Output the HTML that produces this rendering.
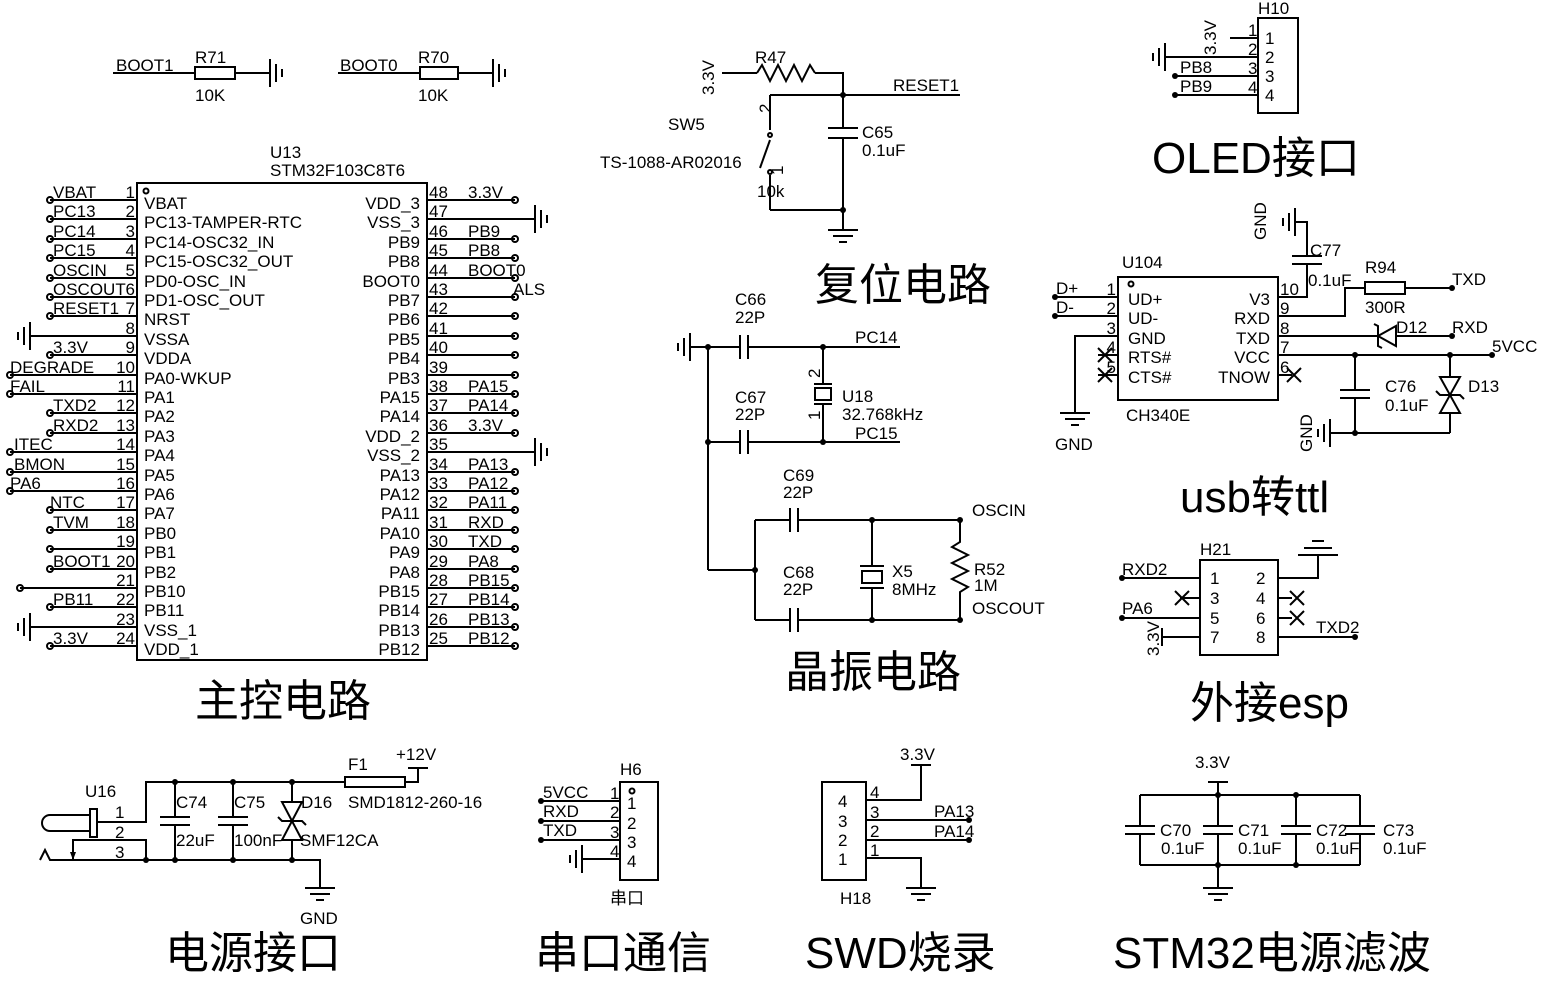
<!DOCTYPE html>
<html><head><meta charset="utf-8"><style>
html,body{margin:0;padding:0;background:#fff}
svg{display:block}
text{font-family:"Liberation Sans","Noto Sans CJK SC",sans-serif;font-size:17px;fill:#000}
.t{font-size:44px}
.s{font-size:17px}
line,polyline,path,rect,circle,polygon{stroke:#000;stroke-width:2;fill:none}
.d{fill:#000;stroke:none}
</style></head><body>
<svg width="1545" height="988" viewBox="0 0 1545 988" xmlns="http://www.w3.org/2000/svg">
<defs>
<g id="gl"><line x1="0" y1="-14" x2="0" y2="14"/><line x1="-6" y1="-9" x2="-6" y2="9"/><line x1="-12" y1="-4" x2="-12" y2="4"/></g>
<g id="gr"><line x1="0" y1="-14" x2="0" y2="14"/><line x1="6" y1="-9" x2="6" y2="9"/><line x1="12" y1="-4" x2="12" y2="4"/></g>
<g id="gd"><line x1="-15" y1="0" x2="15" y2="0"/><line x1="-10" y1="6" x2="10" y2="6"/><line x1="-4" y1="12" x2="4" y2="12"/></g>
</defs>

<!-- BOOT resistors -->
<text x="116" y="71">BOOT1</text><text x="195" y="63">R71</text><text x="195" y="101">10K</text>
<line x1="113" y1="73" x2="195" y2="73"/><rect x="195" y="67" width="40" height="12"/><line x1="235" y1="73" x2="270" y2="73"/><use href="#gr" x="270" y="73"/>
<text x="340" y="71">BOOT0</text><text x="418" y="63">R70</text><text x="418" y="101">10K</text>
<line x1="338" y1="73" x2="420" y2="73"/><rect x="420" y="67" width="38" height="12"/><line x1="458" y1="73" x2="493" y2="73"/><use href="#gr" x="493" y="73"/>

<!-- U13 -->
<text x="270" y="158">U13</text><text x="270" y="176">STM32F103C8T6</text>
<rect x="137" y="183" width="290" height="477"/>
<circle cx="146" cy="191" r="2.5" stroke-width="1.5"/>
<g class="s">
<text x="144" y="209">VBAT</text><text x="144" y="228">PC13-TAMPER-RTC</text><text x="144" y="248">PC14-OSC32_IN</text><text x="144" y="267">PC15-OSC32_OUT</text><text x="144" y="287">PD0-OSC_IN</text><text x="144" y="306">PD1-OSC_OUT</text><text x="144" y="325">NRST</text><text x="144" y="345">VSSA</text><text x="144" y="364">VDDA</text><text x="144" y="384">PA0-WKUP</text><text x="144" y="403">PA1</text><text x="144" y="422">PA2</text><text x="144" y="442">PA3</text><text x="144" y="461">PA4</text><text x="144" y="481">PA5</text><text x="144" y="500">PA6</text><text x="144" y="519">PA7</text><text x="144" y="539">PB0</text><text x="144" y="558">PB1</text><text x="144" y="578">PB2</text><text x="144" y="597">PB10</text><text x="144" y="616">PB11</text><text x="144" y="636">VSS_1</text><text x="144" y="655">VDD_1</text>
</g>
<g class="s" text-anchor="end">
<text x="420" y="209">VDD_3</text><text x="420" y="228">VSS_3</text><text x="420" y="248">PB9</text><text x="420" y="267">PB8</text><text x="420" y="287">BOOT0</text><text x="420" y="306">PB7</text><text x="420" y="325">PB6</text><text x="420" y="345">PB5</text><text x="420" y="364">PB4</text><text x="420" y="384">PB3</text><text x="420" y="403">PA15</text><text x="420" y="422">PA14</text><text x="420" y="442">VDD_2</text><text x="420" y="461">VSS_2</text><text x="420" y="481">PA13</text><text x="420" y="500">PA12</text><text x="420" y="519">PA11</text><text x="420" y="539">PA10</text><text x="420" y="558">PA9</text><text x="420" y="578">PA8</text><text x="420" y="597">PB15</text><text x="420" y="616">PB14</text><text x="420" y="636">PB13</text><text x="420" y="655">PB12</text>
</g>
<g class="s" text-anchor="end">
<text x="135" y="198">1</text><text x="135" y="217">2</text><text x="135" y="237">3</text><text x="135" y="256">4</text><text x="135" y="276">5</text><text x="135" y="295">6</text><text x="135" y="314">7</text><text x="135" y="334">8</text><text x="135" y="353">9</text><text x="135" y="373">10</text><text x="135" y="392">11</text><text x="135" y="411">12</text><text x="135" y="431">13</text><text x="135" y="450">14</text><text x="135" y="470">15</text><text x="135" y="489">16</text><text x="135" y="508">17</text><text x="135" y="528">18</text><text x="135" y="547">19</text><text x="135" y="567">20</text><text x="135" y="586">21</text><text x="135" y="605">22</text><text x="135" y="625">23</text><text x="135" y="644">24</text>
</g>
<g class="s">
<text x="429" y="198">48</text><text x="429" y="217">47</text><text x="429" y="237">46</text><text x="429" y="256">45</text><text x="429" y="276">44</text><text x="429" y="295">43</text><text x="429" y="314">42</text><text x="429" y="334">41</text><text x="429" y="353">40</text><text x="429" y="373">39</text><text x="429" y="392">38</text><text x="429" y="411">37</text><text x="429" y="431">36</text><text x="429" y="450">35</text><text x="429" y="470">34</text><text x="429" y="489">33</text><text x="429" y="508">32</text><text x="429" y="528">31</text><text x="429" y="547">30</text><text x="429" y="567">29</text><text x="429" y="586">28</text><text x="429" y="605">27</text><text x="429" y="625">26</text><text x="429" y="644">25</text>
</g>
<!-- left pin lines -->
<g>
<line x1="50" y1="200" x2="137" y2="200"/><line x1="50" y1="219" x2="137" y2="219"/><line x1="50" y1="239" x2="137" y2="239"/><line x1="50" y1="258" x2="137" y2="258"/><line x1="50" y1="278" x2="137" y2="278"/><line x1="50" y1="297" x2="137" y2="297"/><line x1="50" y1="316" x2="137" y2="316"/><line x1="30" y1="336" x2="137" y2="336"/><line x1="50" y1="355" x2="137" y2="355"/><line x1="10" y1="375" x2="137" y2="375"/><line x1="10" y1="394" x2="137" y2="394"/><line x1="50" y1="413" x2="137" y2="413"/><line x1="50" y1="433" x2="137" y2="433"/><line x1="10" y1="452" x2="137" y2="452"/><line x1="10" y1="472" x2="137" y2="472"/><line x1="10" y1="491" x2="137" y2="491"/><line x1="50" y1="510" x2="137" y2="510"/><line x1="50" y1="530" x2="137" y2="530"/><line x1="50" y1="549" x2="137" y2="549"/><line x1="50" y1="569" x2="137" y2="569"/><line x1="20" y1="588" x2="137" y2="588"/><line x1="50" y1="607" x2="137" y2="607"/><line x1="30" y1="627" x2="137" y2="627"/><line x1="50" y1="646" x2="137" y2="646"/>
</g>
<use href="#gl" x="30" y="336"/><use href="#gl" x="30" y="627"/>
<g class="d">
<circle cx="50" cy="200" r="3"/><circle cx="50" cy="219" r="3"/><circle cx="50" cy="239" r="3"/><circle cx="50" cy="258" r="3"/><circle cx="50" cy="278" r="3"/><circle cx="50" cy="297" r="3"/><circle cx="50" cy="316" r="3"/><circle cx="50" cy="355" r="3"/><circle cx="10" cy="375" r="3"/><circle cx="10" cy="394" r="3"/><circle cx="50" cy="413" r="3"/><circle cx="50" cy="433" r="3"/><circle cx="10" cy="452" r="3"/><circle cx="10" cy="472" r="3"/><circle cx="10" cy="491" r="3"/><circle cx="50" cy="510" r="3"/><circle cx="50" cy="530" r="3"/><circle cx="50" cy="549" r="3"/><circle cx="50" cy="569" r="3"/><circle cx="20" cy="588" r="3"/><circle cx="50" cy="607" r="3"/><circle cx="50" cy="646" r="3"/>
</g>
<g>
<text x="53" y="198">VBAT</text><text x="53" y="217">PC13</text><text x="53" y="237">PC14</text><text x="53" y="256">PC15</text><text x="53" y="276">OSCIN</text><text x="53" y="295">OSCOUT</text><text x="53" y="314">RESET1</text><text x="53" y="353">3.3V</text><text x="10" y="373">DEGRADE</text><text x="10" y="392">FAIL</text><text x="53" y="411">TXD2</text><text x="53" y="431">RXD2</text><text x="14" y="450">ITEC</text><text x="14" y="470">BMON</text><text x="10" y="489">PA6</text><text x="50" y="508">NTC</text><text x="53" y="528">TVM</text><text x="53" y="567">BOOT1</text><text x="53" y="605">PB11</text><text x="53" y="644">3.3V</text>
</g>
<!-- right pin lines -->
<g>
<line x1="427" y1="200" x2="515" y2="200"/><line x1="427" y1="219" x2="535" y2="219"/><line x1="427" y1="239" x2="515" y2="239"/><line x1="427" y1="258" x2="515" y2="258"/><line x1="427" y1="278" x2="515" y2="278"/><line x1="427" y1="297" x2="515" y2="297"/><line x1="427" y1="316" x2="515" y2="316"/><line x1="427" y1="336" x2="515" y2="336"/><line x1="427" y1="355" x2="515" y2="355"/><line x1="427" y1="375" x2="515" y2="375"/><line x1="427" y1="394" x2="515" y2="394"/><line x1="427" y1="413" x2="515" y2="413"/><line x1="427" y1="433" x2="515" y2="433"/><line x1="427" y1="452" x2="535" y2="452"/><line x1="427" y1="472" x2="515" y2="472"/><line x1="427" y1="491" x2="515" y2="491"/><line x1="427" y1="510" x2="515" y2="510"/><line x1="427" y1="530" x2="515" y2="530"/><line x1="427" y1="549" x2="515" y2="549"/><line x1="427" y1="569" x2="515" y2="569"/><line x1="427" y1="588" x2="515" y2="588"/><line x1="427" y1="607" x2="515" y2="607"/><line x1="427" y1="627" x2="515" y2="627"/><line x1="427" y1="646" x2="515" y2="646"/>
</g>
<use href="#gr" x="535" y="219"/><use href="#gr" x="535" y="452"/>
<g class="d">
<circle cx="515" cy="200" r="3"/><circle cx="515" cy="239" r="3"/><circle cx="515" cy="258" r="3"/><circle cx="515" cy="278" r="3"/><circle cx="515" cy="297" r="3"/><circle cx="515" cy="316" r="3"/><circle cx="515" cy="336" r="3"/><circle cx="515" cy="355" r="3"/><circle cx="515" cy="375" r="3"/><circle cx="515" cy="394" r="3"/><circle cx="515" cy="413" r="3"/><circle cx="515" cy="433" r="3"/><circle cx="515" cy="472" r="3"/><circle cx="515" cy="491" r="3"/><circle cx="515" cy="510" r="3"/><circle cx="515" cy="530" r="3"/><circle cx="515" cy="549" r="3"/><circle cx="515" cy="569" r="3"/><circle cx="515" cy="588" r="3"/><circle cx="515" cy="607" r="3"/><circle cx="515" cy="627" r="3"/><circle cx="515" cy="646" r="3"/>
</g>
<g>
<text x="468" y="198">3.3V</text><text x="468" y="237">PB9</text><text x="468" y="256">PB8</text><text x="468" y="276">BOOT0</text><text x="513" y="295">ALS</text><text x="468" y="392">PA15</text><text x="468" y="411">PA14</text><text x="468" y="431">3.3V</text><text x="468" y="470">PA13</text><text x="468" y="489">PA12</text><text x="468" y="508">PA11</text><text x="468" y="528">RXD</text><text x="468" y="547">TXD</text><text x="468" y="567">PA8</text><text x="468" y="586">PB15</text><text x="468" y="605">PB14</text><text x="468" y="625">PB13</text><text x="468" y="644">PB12</text>
</g>
<text class="t" x="195" y="716">主控电路</text>

<!-- Reset -->
<text transform="translate(714,95) rotate(-90)">3.3V</text>
<line x1="722" y1="73" x2="757" y2="73"/>
<polyline points="757,73 762,65 770,81 778,65 786,81 794,65 802,81 810,65 815,73"/>
<text x="755" y="63">R47</text>
<polyline points="815,73 843,73 843,95"/>
<line x1="770" y1="95" x2="960" y2="95"/><circle class="d" cx="843" cy="95" r="3"/>
<text x="893" y="91">RESET1</text>
<line x1="843" y1="95" x2="843" y2="128"/><line x1="828" y1="128" x2="858" y2="128"/><line x1="828" y1="138" x2="858" y2="138"/><line x1="843" y1="138" x2="843" y2="210"/>
<text x="862" y="138">C65</text><text x="862" y="156">0.1uF</text>
<line x1="770" y1="95" x2="770" y2="130"/><text x="760" y="114" transform="rotate(-90 765 108)">2</text>
<line x1="770" y1="140" x2="760" y2="168"/><circle cx="770" cy="135" r="2" stroke-width="1.5"/><circle cx="770" cy="172" r="2" stroke-width="1.5"/>
<line x1="770" y1="175" x2="770" y2="210"/><text x="773" y="177" transform="rotate(-90 777 171)">1</text>
<text x="757" y="197">10k</text>
<line x1="770" y1="210" x2="843" y2="210"/><circle class="d" cx="843" cy="210" r="3"/>
<line x1="843" y1="210" x2="843" y2="230"/><use href="#gd" x="843" y="230"/>
<text x="668" y="130">SW5</text><text x="600" y="168">TS-1088-AR02016</text>
<text class="t" x="815" y="300">复位电路</text>

<!-- 32k crystal -->
<use href="#gl" x="690" y="347"/>
<line x1="690" y1="347" x2="740" y2="347"/><line x1="740" y1="335" x2="740" y2="359"/><line x1="748" y1="335" x2="748" y2="359"/><line x1="748" y1="347" x2="900" y2="347"/>
<circle class="d" cx="708" cy="347" r="3"/><circle class="d" cx="823" cy="347" r="3"/><circle class="d" cx="708" cy="442" r="3"/><circle class="d" cx="823" cy="442" r="3"/>
<text x="855" y="343">PC14</text><text x="855" y="439">PC15</text>
<line x1="708" y1="347" x2="708" y2="570"/>
<line x1="708" y1="442" x2="740" y2="442"/><line x1="740" y1="430" x2="740" y2="454"/><line x1="748" y1="430" x2="748" y2="454"/><line x1="748" y1="442" x2="900" y2="442"/>
<line x1="823" y1="347" x2="823" y2="384"/><line x1="814" y1="384" x2="832" y2="384"/><rect x="815" y="388" width="16" height="12"/><line x1="814" y1="404" x2="832" y2="404"/><line x1="823" y1="404" x2="823" y2="442"/>
<text class="s" x="810" y="378" transform="rotate(-90 815 373)">2</text><text class="s" x="810" y="420" transform="rotate(-90 815 415)">1</text>
<text x="842" y="402">U18</text><text x="842" y="420">32.768kHz</text>
<text x="735" y="305">C66</text><text x="735" y="323">22P</text><text x="735" y="403">C67</text><text x="735" y="420">22P</text>
<!-- HSE -->
<line x1="708" y1="570" x2="755" y2="570"/><circle class="d" cx="755" cy="570" r="3"/>
<line x1="755" y1="520" x2="755" y2="620"/>
<line x1="755" y1="520" x2="790" y2="520"/><line x1="790" y1="508" x2="790" y2="532"/><line x1="798" y1="508" x2="798" y2="532"/><line x1="798" y1="520" x2="960" y2="520"/>
<line x1="755" y1="620" x2="790" y2="620"/><line x1="790" y1="608" x2="790" y2="632"/><line x1="798" y1="608" x2="798" y2="632"/><line x1="798" y1="620" x2="960" y2="620"/>
<circle class="d" cx="872" cy="520" r="3"/><circle class="d" cx="960" cy="520" r="3"/><circle class="d" cx="872" cy="620" r="3"/><circle class="d" cx="960" cy="620" r="3"/>
<line x1="872" y1="520" x2="872" y2="566"/><line x1="860" y1="566" x2="884" y2="566"/><rect x="862" y="571" width="20" height="12"/><line x1="860" y1="588" x2="884" y2="588"/><line x1="872" y1="588" x2="872" y2="620"/>
<polyline points="960,520 960,542 952,547 968,555 952,563 968,571 952,579 968,587 960,592 960,620"/>
<text x="972" y="516">OSCIN</text><text x="972" y="614">OSCOUT</text>
<text x="783" y="481">C69</text><text x="783" y="498">22P</text><text x="783" y="578">C68</text><text x="783" y="595">22P</text>
<text x="892" y="577">X5</text><text x="892" y="595">8MHz</text><text x="974" y="575">R52</text><text x="974" y="591">1M</text>
<text class="t" x="785" y="687">晶振电路</text>

<!-- OLED -->
<text x="1258" y="14">H10</text>
<rect x="1258" y="18" width="40" height="95"/>
<text transform="translate(1216,55) rotate(-90)">3.3V</text>
<line x1="1230" y1="38" x2="1258" y2="38"/><text class="s" x="1248" y="36">1</text><text class="s" x="1265" y="44">1</text>
<line x1="1165" y1="57" x2="1258" y2="57"/><use href="#gl" x="1165" y="57"/><text class="s" x="1248" y="55">2</text><text class="s" x="1265" y="63">2</text>
<line x1="1175" y1="76" x2="1258" y2="76"/><text class="s" x="1248" y="74">3</text><text class="s" x="1265" y="82">3</text><text x="1180" y="73">PB8</text>
<line x1="1175" y1="95" x2="1258" y2="95"/><text class="s" x="1248" y="93">4</text><text class="s" x="1265" y="101">4</text><text x="1180" y="92">PB9</text>
<circle class="d" cx="1175" cy="76" r="3"/><circle class="d" cx="1175" cy="95" r="3"/>
<text class="t" x="1152" y="173">OLED接口</text>

<!-- USB TTL -->
<text x="1122" y="268">U104</text>
<rect x="1118" y="277" width="160" height="123"/><circle cx="1131" cy="284" r="2.5" stroke-width="1.5"/>
<g class="s">
<text x="1128" y="305">UD+</text><text x="1128" y="324">UD-</text><text x="1128" y="344">GND</text><text x="1128" y="363">RTS#</text><text x="1128" y="383">CTS#</text>
<text x="1270" y="305" text-anchor="end">V3</text><text x="1270" y="324" text-anchor="end">RXD</text><text x="1270" y="344" text-anchor="end">TXD</text><text x="1270" y="363" text-anchor="end">VCC</text><text x="1270" y="383" text-anchor="end">TNOW</text>
<text x="1116" y="295" text-anchor="end">1</text><text x="1116" y="314" text-anchor="end">2</text><text x="1116" y="334" text-anchor="end">3</text><text x="1116" y="353" text-anchor="end">4</text><text x="1116" y="373" text-anchor="end">5</text>
<text x="1280" y="295">10</text><text x="1280" y="314">9</text><text x="1280" y="334">8</text><text x="1280" y="353">7</text><text x="1280" y="373">6</text>
</g>
<text x="1126" y="421">CH340E</text>
<line x1="1055" y1="297" x2="1118" y2="297"/><line x1="1055" y1="316" x2="1118" y2="316"/>
<circle class="d" cx="1055" cy="297" r="3"/><circle class="d" cx="1055" cy="316" r="3"/>
<text x="1056" y="294">D+</text><text x="1056" y="313">D-</text>
<polyline points="1118,336 1075,336 1075,413"/><use href="#gd" x="1075" y="413"/><text x="1055" y="450">GND</text>
<line x1="1098" y1="355" x2="1118" y2="355"/><line x1="1098" y1="375" x2="1118" y2="375"/>
<path d="M1098 348 l14 14 M1112 348 l-14 14 M1098 368 l14 14 M1112 368 l-14 14"/>
<line x1="1278" y1="375" x2="1292" y2="375"/><path d="M1287 368 l14 14 M1301 368 l-14 14"/>
<polyline points="1278,297 1307,297 1307,264"/><line x1="1292" y1="264" x2="1322" y2="264"/><line x1="1292" y1="256" x2="1322" y2="256"/><polyline points="1307,256 1307,222 1295,222"/><use href="#gl" x="1295" y="222"/>
<text transform="translate(1266,240) rotate(-90)">GND</text>
<text x="1310" y="256">C77</text><text x="1308" y="286">0.1uF</text>
<polyline points="1278,316 1345,316 1345,288 1365,288"/><rect x="1365" y="282" width="40" height="12"/><line x1="1405" y1="288" x2="1452" y2="288"/><circle class="d" cx="1452" cy="288" r="3"/>
<text x="1365" y="273">R94</text><text x="1365" y="313">300R</text><text x="1452" y="285">TXD</text>
<line x1="1278" y1="336" x2="1378" y2="336"/><polygon points="1378,336 1396,326 1396,346"/><polyline points="1374,324 1378,326 1378,346 1382,348"/><line x1="1396" y1="336" x2="1452" y2="336"/><circle class="d" cx="1452" cy="336" r="3"/>
<text x="1396" y="333">D12</text><text x="1452" y="333">RXD</text>
<line x1="1278" y1="355" x2="1492" y2="355"/><circle class="d" cx="1355" cy="355" r="3"/><circle class="d" cx="1450" cy="355" r="3"/><circle class="d" cx="1492" cy="355" r="3"/>
<text x="1492" y="352">5VCC</text>
<line x1="1355" y1="355" x2="1355" y2="390"/><line x1="1340" y1="390" x2="1370" y2="390"/><line x1="1340" y1="398" x2="1370" y2="398"/><line x1="1355" y1="398" x2="1355" y2="433"/>
<text x="1385" y="392">C76</text><text x="1385" y="411">0.1uF</text>
<line x1="1450" y1="355" x2="1450" y2="377"/><polygon points="1440,377 1460,377 1450,395"/><polygon points="1440,413 1460,413 1450,395"/><path d="M1436 391 l4 4 h20 l4 4"/><line x1="1450" y1="413" x2="1450" y2="433"/>
<text x="1468" y="392">D13</text>
<line x1="1330" y1="433" x2="1450" y2="433"/><circle class="d" cx="1355" cy="433" r="3"/><use href="#gl" x="1330" y="433"/>
<text transform="translate(1312,452) rotate(-90)">GND</text>
<text class="t" x="1180" y="512">usb转ttl</text>

<!-- ESP -->
<text x="1200" y="555">H21</text>
<rect x="1200" y="560" width="78" height="95"/>
<text x="1210" y="584">1</text><text x="1256" y="584">2</text><text x="1210" y="604">3</text><text x="1256" y="604">4</text><text x="1210" y="624">5</text><text x="1256" y="624">6</text><text x="1210" y="643">7</text><text x="1256" y="643">8</text>
<line x1="1122" y1="578" x2="1200" y2="578"/><circle class="d" cx="1122" cy="578" r="3"/><text x="1122" y="575">RXD2</text>
<line x1="1180" y1="598" x2="1200" y2="598"/><path d="M1175 591 l14 14 M1189 591 l-14 14"/>
<line x1="1122" y1="618" x2="1200" y2="618"/><circle class="d" cx="1122" cy="618" r="3"/><text x="1122" y="614">PA6</text>
<line x1="1162" y1="637" x2="1200" y2="637"/><line x1="1162" y1="628" x2="1162" y2="646"/><text transform="translate(1159,656) rotate(-90)">3.3V</text>
<polyline points="1278,578 1318,578 1318,555"/><line x1="1298" y1="555" x2="1338" y2="555"/><line x1="1304" y1="548" x2="1332" y2="548"/><line x1="1312" y1="541" x2="1324" y2="541"/>
<line x1="1278" y1="598" x2="1292" y2="598"/><line x1="1278" y1="618" x2="1292" y2="618"/><path d="M1290 591 l14 14 M1304 591 l-14 14 M1290 611 l14 14 M1304 611 l-14 14"/>
<line x1="1278" y1="637" x2="1355" y2="637"/><circle class="d" cx="1355" cy="637" r="3"/><text x="1316" y="633">TXD2</text>
<text class="t" x="1190" y="718">外接esp</text>

<!-- Power -->
<text x="85" y="797">U16</text>
<path d="M90 815 h-40 a8 8 0 0 0 0 16 h40"/><rect x="90" y="809" width="7" height="28"/>
<polyline points="97,822 146,822 146,782 345,782"/>
<text x="115" y="818">1</text><text x="115" y="838">2</text><text x="115" y="858">3</text>
<polyline points="73,860 73,840 146,840 146,860"/><polygon class="d" points="70,852 76,852 73,860"/>
<polyline points="40,860 45,850 50,860 320,860 320,888"/><use href="#gd" x="320" y="888"/><text x="300" y="924">GND</text>
<circle class="d" cx="146" cy="860" r="3"/><circle class="d" cx="175" cy="782" r="3"/><circle class="d" cx="233" cy="782" r="3"/><circle class="d" cx="292" cy="782" r="3"/><circle class="d" cx="175" cy="860" r="3"/><circle class="d" cx="233" cy="860" r="3"/><circle class="d" cx="292" cy="860" r="3"/>
<line x1="175" y1="782" x2="175" y2="817"/><line x1="160" y1="817" x2="190" y2="817"/><line x1="160" y1="825" x2="190" y2="825"/><line x1="175" y1="825" x2="175" y2="860"/>
<line x1="233" y1="782" x2="233" y2="817"/><line x1="218" y1="817" x2="248" y2="817"/><line x1="218" y1="825" x2="248" y2="825"/><line x1="233" y1="825" x2="233" y2="860"/>
<line x1="292" y1="782" x2="292" y2="802"/><polygon points="282,802 302,802 292,821"/><polygon points="282,840 302,840 292,821"/><path d="M278 817 l4 4 h20 l4 4"/><line x1="292" y1="840" x2="292" y2="860"/>
<rect x="345" y="777" width="60" height="10"/><polyline points="405,782 418,782 418,768"/><line x1="408" y1="768" x2="428" y2="768"/>
<text x="348" y="770">F1</text><text x="396" y="760">+12V</text><text x="348" y="808">SMD1812-260-16</text>
<text x="176" y="808">C74</text><text x="176" y="846">22uF</text><text x="234" y="808">C75</text><text x="234" y="846">100nF</text><text x="301" y="808">D16</text><text x="300" y="846">SMF12CA</text>
<text class="t" x="165" y="968">电源接口</text>

<!-- Serial -->
<text x="620" y="775">H6</text>
<rect x="620" y="782" width="38" height="98"/><circle cx="632" cy="791" r="2.5" stroke-width="1.5"/>
<line x1="541" y1="801" x2="620" y2="801"/><line x1="541" y1="821" x2="620" y2="821"/><line x1="541" y1="840" x2="620" y2="840"/>
<circle class="d" cx="541" cy="801" r="3"/><circle class="d" cx="541" cy="821" r="3"/><circle class="d" cx="541" cy="840" r="3"/>
<text x="543" y="798">5VCC</text><text x="543" y="817">RXD</text><text x="543" y="836">TXD</text>
<text x="610" y="799">1</text><text x="610" y="818">2</text><text x="610" y="838">3</text><text x="610" y="857">4</text>
<text x="627" y="809">1</text><text x="627" y="829">2</text><text x="627" y="848">3</text><text x="627" y="867">4</text>
<line x1="582" y1="859" x2="620" y2="859"/><use href="#gl" x="582" y="859"/>
<text x="610" y="904">串口</text>
<text class="t" x="535" y="968">串口通信</text>

<!-- SWD -->
<rect x="822" y="782" width="44" height="98"/>
<text x="838" y="807">4</text><text x="838" y="827">3</text><text x="838" y="846">2</text><text x="838" y="865">1</text>
<text x="870" y="798">4</text><text x="870" y="818">3</text><text x="870" y="837">2</text><text x="870" y="856">1</text>
<polyline points="866,800 921,800 921,765"/><line x1="911" y1="765" x2="931" y2="765"/><text x="900" y="760">3.3V</text>
<line x1="866" y1="820" x2="969" y2="820"/><line x1="866" y1="840" x2="969" y2="840"/>
<circle class="d" cx="969" cy="820" r="3"/><circle class="d" cx="969" cy="840" r="3"/>
<text x="934" y="817">PA13</text><text x="934" y="837">PA14</text>
<polyline points="866,858 921,858 921,888"/><use href="#gd" x="921" y="888"/>
<text x="840" y="904">H18</text>
<text class="t" x="805" y="968">SWD烧录</text>

<!-- Filter -->
<text x="1195" y="768">3.3V</text><line x1="1208" y1="782" x2="1228" y2="782"/><line x1="1218" y1="782" x2="1218" y2="795"/>
<line x1="1140" y1="795" x2="1360" y2="795"/><line x1="1140" y1="865" x2="1360" y2="865"/>
<circle class="d" cx="1218" cy="795" r="3"/><circle class="d" cx="1296" cy="795" r="3"/><circle class="d" cx="1218" cy="865" r="3"/><circle class="d" cx="1296" cy="865" r="3"/>
<g>
<line x1="1140" y1="795" x2="1140" y2="826"/><line x1="1125" y1="826" x2="1155" y2="826"/><line x1="1125" y1="834" x2="1155" y2="834"/><line x1="1140" y1="834" x2="1140" y2="865"/>
<line x1="1218" y1="795" x2="1218" y2="826"/><line x1="1203" y1="826" x2="1233" y2="826"/><line x1="1203" y1="834" x2="1233" y2="834"/><line x1="1218" y1="834" x2="1218" y2="865"/>
<line x1="1296" y1="795" x2="1296" y2="826"/><line x1="1281" y1="826" x2="1311" y2="826"/><line x1="1281" y1="834" x2="1311" y2="834"/><line x1="1296" y1="834" x2="1296" y2="865"/>
<line x1="1360" y1="795" x2="1360" y2="826"/><line x1="1345" y1="826" x2="1375" y2="826"/><line x1="1345" y1="834" x2="1375" y2="834"/><line x1="1360" y1="834" x2="1360" y2="865"/>
</g>
<text x="1160" y="836">C70</text><text x="1161" y="854">0.1uF</text>
<text x="1238" y="836">C71</text><text x="1238" y="854">0.1uF</text>
<text x="1316" y="836">C72</text><text x="1316" y="854">0.1uF</text>
<text x="1383" y="836">C73</text><text x="1383" y="854">0.1uF</text>
<line x1="1218" y1="865" x2="1218" y2="888"/><use href="#gd" x="1218" y="888"/>
<text class="t" x="1113" y="968">STM32电源滤波</text>
</svg>
</body></html>
